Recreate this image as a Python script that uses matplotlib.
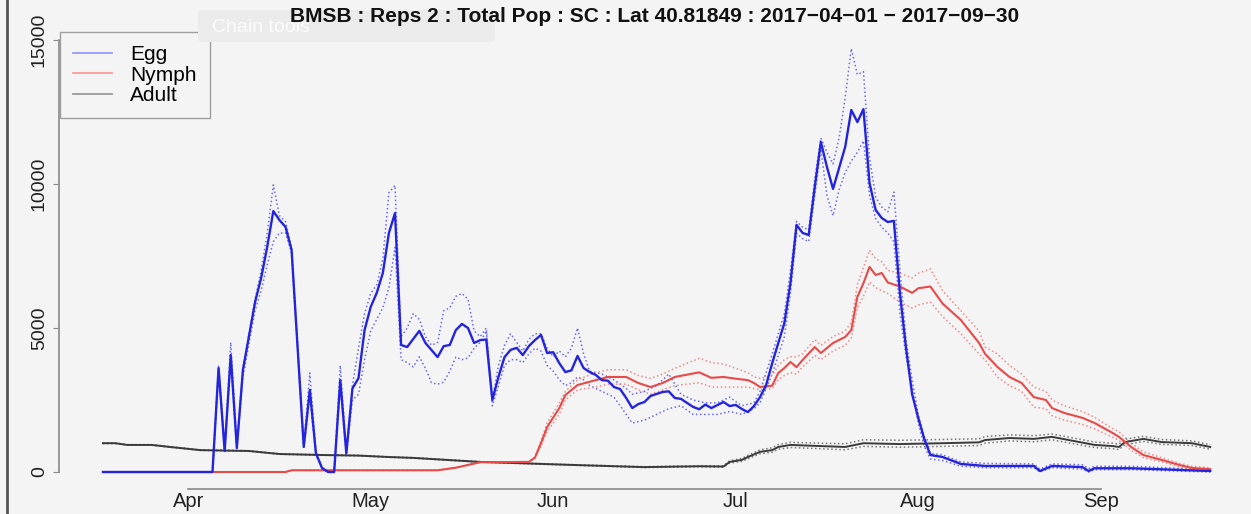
import matplotlib.pyplot as plt
from matplotlib.lines import Line2D
from matplotlib.patches import FancyBboxPatch

plt.rcParams['font.family'] = ['Liberation Sans', 'DejaVu Sans']

# days since 2017-04-01
egg_day = [0, 18, 19, 20, 21, 22, 23, 25, 26, 27, 28, 29, 30, 31, 33, 34, 35, 36, 37, 38, 39, 40, 41, 42, 43,
           44, 45, 46, 47, 48, 49, 50, 52, 53, 55, 56, 57, 58, 59, 60, 61, 62, 63, 64, 65, 66, 67, 68, 69, 70,
           71, 72, 73, 74, 75, 76, 77, 78, 79, 80, 81, 82, 83, 84, 85, 86, 87, 88, 89, 90, 91, 92, 93, 94, 95,
           96, 97, 98, 99, 100, 102, 103, 104, 105, 106, 107, 108, 109, 110, 111, 112, 113, 114, 115, 116, 117,
           118, 119, 120, 121, 122, 123, 124, 125, 126, 127, 128, 129, 130, 131, 132, 133, 134, 135, 136, 138,
           141, 145, 153, 154, 156, 161, 162, 163, 169, 182]
egg = [0, 0, 3610, 730, 4060, 830, 3540, 5900, 6740, 7820, 9060, 8750, 8510, 7710, 870, 2850, 650, 140, 0, 0,
       3190, 650, 2900, 3260, 4930, 5730, 6220, 6910, 8300, 8990, 4410, 4340, 4900, 4480, 3990, 4370, 4410, 4930,
       5140, 5000, 4480, 4580, 4600, 2500, 3300, 3990, 4240, 4310, 4060, 4370, 4580, 4760, 4130, 4160, 3780,
       3470, 3530, 4030, 3610, 3470, 3370, 3190, 3170, 2950, 2880, 2570, 2220, 2360, 2430, 2640, 2710, 2780,
       2800, 2570, 2540, 2400, 2260, 2180, 2340, 2220, 2430, 2290, 2330, 2190, 2080, 2290, 2600, 3020, 3780,
       4480, 5170, 6560, 8580, 8300, 8230, 9900, 11460, 10590, 9830, 10560, 11290, 12570, 12150, 12600, 10030,
       9100, 8820, 8680, 8720, 6200, 4300, 2700, 1880, 1150, 590, 520, 280, 210, 210, 35, 210, 170, 35, 130,
       130, 35]

egg_hi_day = [0, 18, 19, 20, 21, 22, 23, 25, 26, 27, 28, 29, 30, 31, 33, 34, 35, 36, 37, 38, 39, 40, 41, 42,
              43, 44, 45, 46, 47, 48, 49, 50, 51, 52, 53, 54, 55, 56, 57, 58, 59, 60, 61, 62, 63, 64, 65, 66,
              67, 68, 69, 70, 71, 72, 73, 74, 75, 76, 77, 78, 79, 80, 82, 84, 86, 87, 89, 91, 93, 95, 97, 99,
              101, 103, 105, 107, 108, 110, 112, 113, 114, 115, 116, 117, 118, 119, 120, 121, 122, 123, 124,
              125, 126, 127, 128, 129, 130, 131, 132, 133, 134, 135, 136, 138, 141, 145, 153, 154, 156, 161,
              162, 163, 169, 182]
egg_hi = [0, 0, 3700, 800, 4500, 900, 3600, 6000, 7000, 8300, 9970, 8900, 8700, 7800, 900, 3440, 700, 150, 0,
          0, 3700, 700, 3000, 4300, 5500, 6200, 6500, 7400, 9700, 9950, 4700, 5000, 5500, 5300, 4700, 4400,
          4500, 5600, 5700, 6100, 6200, 6000, 4900, 4700, 5000, 2500, 3700, 4400, 4800, 4500, 4200, 4600,
          4800, 4800, 4300, 4000, 4200, 4000, 4300, 5000, 4100, 3500, 3400, 3200, 2900, 2700, 2800, 3000,
          3400, 2700, 2500, 2400, 2400, 2600, 2300, 2400, 2800, 4100, 5500, 7000, 8700, 8500, 8400, 10200,
          11600, 11100, 10700, 11600, 13000, 14700, 13800, 13900, 10900, 9550, 9200, 9030, 9720, 7000, 4600,
          3200, 2000, 1200, 650, 600, 350, 300, 280, 100, 280, 250, 120, 200, 200, 80]

egg_lo_day = egg_hi_day
egg_lo = [0, 0, 3500, 700, 3900, 800, 3300, 5600, 6300, 7200, 8000, 8300, 8300, 7600, 850, 2600, 600, 130, 0,
          0, 3000, 600, 2500, 2700, 3900, 4900, 5300, 5700, 6400, 7800, 3900, 3800, 3650, 4000, 3600, 3100,
          3050, 3120, 3500, 3990, 3900, 3960, 4300, 4500, 4900, 2300, 3000, 3700, 3900, 3900, 3800, 4100,
          4300, 4200, 3700, 3500, 3200, 3000, 3100, 3300, 3200, 3000, 2800, 2600, 2000, 1700, 1800, 2000,
          2200, 2300, 2000, 2000, 2000, 2100, 2000, 2200, 2400, 3400, 4700, 6200, 8300, 8100, 8000, 9600,
          11200, 9600, 8900, 9800, 10400, 10800, 11100, 11500, 9600, 8800, 8500, 8300, 8000, 5500, 4000,
          2900, 1700, 900, 450, 400, 200, 150, 150, 0, 150, 100, 0, 80, 80, 0]

nymph_day = [0, 30, 31, 55, 58, 62, 70, 71, 72, 73, 75, 76, 78, 81, 83, 86, 88, 90, 92, 94, 98, 100, 102, 104,
             106, 107, 108, 110, 111, 112, 113, 114, 115, 117, 118, 120, 122, 123, 124, 125, 126, 127, 128,
             129, 131, 133, 134, 136, 138, 141, 144, 145, 147, 149, 151, 153, 155, 156, 158, 161, 163, 166,
             167, 169, 171, 174, 177, 179, 182]
nymph = [0, 0, 60, 60, 150, 340, 350, 500, 1000, 1560, 2220, 2670, 3020, 3190, 3300, 3300, 3090, 2950, 3090,
         3300, 3460, 3270, 3300, 3240, 3190, 3090, 2950, 3000, 3440, 3610, 3820, 3640, 3890, 4340, 4130, 4480,
         4690, 4930, 6080, 6560, 7120, 6840, 6910, 6580, 6440, 6220, 6380, 6440, 5850, 5280, 4480, 4100, 3650,
         3300, 3090, 2600, 2500, 2220, 2050, 1880, 1700, 1350, 1220, 870, 590, 420, 240, 140, 100]
nymph_hi = [0, 0, 60, 60, 150, 340, 350, 520, 1100, 1700, 2400, 2800, 3200, 3450, 3550, 3550, 3350, 3250,
            3400, 3600, 3950, 3800, 3750, 3600, 3450, 3300, 3250, 3350, 3700, 3900, 4000, 4000, 4100, 4600,
            4400, 4700, 4900, 5200, 6500, 7100, 7700, 7400, 7300, 7000, 6900, 6740, 6900, 7050, 6300, 5600,
            4900, 4340, 4100, 3700, 3400, 2950, 2800, 2500, 2300, 2100, 1900, 1500, 1400, 1000, 700, 500, 300,
            200, 150]
nymph_lo = [0, 0, 60, 60, 150, 340, 350, 480, 900, 1400, 2000, 2500, 2850, 2950, 3050, 3050, 2850, 2700,
            2850, 3000, 3100, 2950, 2950, 2950, 2950, 2900, 2850, 2900, 3200, 3350, 3450, 3400, 3650, 4050,
            3900, 4200, 4400, 4650, 5700, 6100, 6600, 6400, 6300, 6200, 5900, 5690, 5800, 5900, 5400, 4800,
            4100, 3890, 3300, 3000, 2800, 2250, 2200, 1950, 1800, 1650, 1500, 1200, 1100, 750, 500, 350, 180,
            100, 60]

adult_day = [0, 2, 4, 8, 11, 16, 24, 29, 36, 42, 47, 51, 62, 78, 89, 98, 102, 103, 105, 106, 108, 110, 111,
             113, 118, 122, 125, 131, 138, 144, 145, 149, 153, 156, 159, 163, 166, 167, 168, 171, 174, 179, 182]
adult = [1000, 1000, 940, 940, 870, 760, 730, 625, 590, 570, 520, 490, 350, 240, 170, 200, 190, 350, 420, 520,
         700, 760, 870, 940, 900, 870, 1000, 970, 1000, 1030, 1110, 1180, 1150, 1220, 1100, 940, 900, 870,
         1040, 1150, 1040, 1000, 870]
adult_hi = [1010, 1010, 950, 950, 880, 770, 740, 635, 600, 580, 530, 500, 360, 250, 185, 220, 215, 390, 470,
            580, 770, 840, 950, 1030, 1000, 980, 1120, 1100, 1130, 1150, 1230, 1290, 1260, 1320, 1200, 1040,
            1000, 970, 1140, 1240, 1130, 1080, 950]
adult_lo = [990, 990, 930, 930, 860, 750, 720, 615, 580, 560, 510, 480, 340, 230, 155, 180, 170, 310, 370,
            460, 630, 690, 790, 850, 810, 770, 890, 860, 890, 920, 1000, 1080, 1050, 1120, 1000, 850, 810, 780,
            950, 1060, 960, 920, 790]

month_pos = [14, 44, 74, 104, 134, 164]
month_lab = ['Apr', 'May', 'Jun', 'Jul', 'Aug', 'Sep']
y_ticks = [0, 5000, 10000, 15000]

title = ('BMSB : Reps 2 : Total Pop : SC : Lat 40.81849 : '
         '2017\u221204\u221201 \u2212 2017\u221209\u221230')

W, H = 1251, 514
bg = '#f4f4f4'
fig = plt.figure(figsize=(W / 100, H / 100), dpi=100, facecolor=bg)
ax = fig.add_axes([59 / W, (H - 489) / H, (W - 59) / W, (489 - 32) / H], facecolor=bg)

# bounds (dotted)
ax.plot(egg_hi_day, egg_hi, ':', color='#6a6aee', lw=1.1)
ax.plot(egg_lo_day, egg_lo, ':', color='#6a6aee', lw=1.1)
ax.plot(nymph_day, nymph_hi, ':', color='#f08a8a', lw=1.1)
ax.plot(nymph_day, nymph_lo, ':', color='#f08a8a', lw=1.1)
ax.plot(adult_day, adult_hi, ':', color='#777777', lw=1.1)
ax.plot(adult_day, adult_lo, ':', color='#777777', lw=1.1)

# means
ax.plot(adult_day, adult, color='#3a3a3a', lw=1.4)
ax.plot(nymph_day, nymph, color='#e84a4a', lw=1.5)
ax.plot(egg_day, egg, color='#2424dc', lw=1.7)

ax.set_xlim(-7.23, 188.7)
ax.set_ylim(-590, 15278)

for s in ['top', 'right']:
    ax.spines[s].set_visible(False)
ax.spines['left'].set_bounds(0, 15000)
ax.spines['bottom'].set_bounds(month_pos[0], month_pos[-1])
for s in ['left', 'bottom']:
    ax.spines[s].set_color('#8a8a8a')
    ax.spines[s].set_linewidth(1.2)

ax.set_xticks(month_pos)
ax.set_xticklabels(month_lab, fontsize=14.5, color='#222222')
ax.set_yticks(y_ticks)
ax.set_yticklabels([str(v) for v in y_ticks], fontsize=14, color='#222222',
                   rotation=90, va='center')
ax.tick_params(axis='x', length=0, pad=2)
ax.tick_params(axis='y', length=4, color='#8a8a8a', pad=4)

handles = [Line2D([], [], color='#9a9aff', lw=1.3),
           Line2D([], [], color='#ff9a9a', lw=1.3),
           Line2D([], [], color='#9a9a9a', lw=1.3)]
leg = ax.legend(handles, ['Egg', 'Nymph', 'Adult'], loc='upper left', bbox_to_anchor=(0.001, 1.0),
                borderaxespad=0, fontsize=15, frameon=True, fancybox=False, handlelength=1.85,
                handletextpad=0.9, labelspacing=0.08, borderpad=0.62)
leg.get_frame().set_edgecolor('#8a8a8a')
leg.get_frame().set_facecolor(bg)
leg.get_frame().set_linewidth(1.0)

# faint toolbar overlay from the screenshot (sits behind the title)
fig.add_artist(FancyBboxPatch((198 / W, 1 - 42 / H), 297 / W, 32 / H,
                              boxstyle='round,pad=0,rounding_size=0.006',
                              transform=fig.transFigure, facecolor='#ebebeb', edgecolor='none',
                              zorder=1))
fig.text(212 / W, 1 - 27 / H, 'Chain tools', fontsize=14, color='white', alpha=0.85,
         va='center', ha='left', zorder=2)

fig.text(655 / W, 1 - 17 / H, title, fontsize=15, fontweight='bold', ha='center', va='center',
         color='#111111', zorder=3)

# window border on the left
fig.add_artist(Line2D([7 / W, 7 / W], [0, 1], transform=fig.transFigure, color='#555555', lw=2))

plt.savefig('out.png', dpi=100, facecolor=bg)
